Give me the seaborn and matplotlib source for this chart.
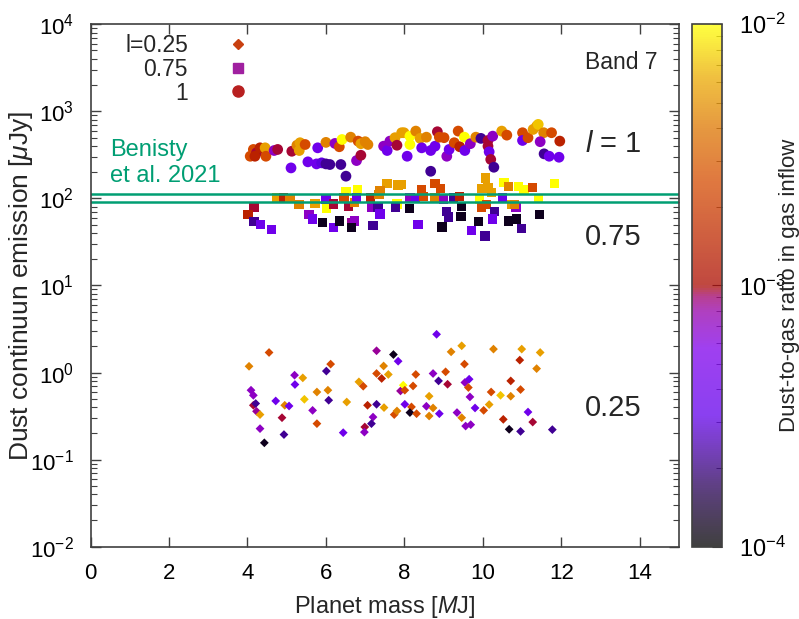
import matplotlib
matplotlib.use('Agg')
import matplotlib.pyplot as plt
import matplotlib.ticker as mticker
import seaborn as sns
from matplotlib.colors import LinearSegmentedColormap, LogNorm
from matplotlib.cm import ScalarMappable
from matplotlib.lines import Line2D

# l = 1 (circles)
mass_l1 = [4.07, 4.15, 4.23, 4.32, 4.45, 4.47, 4.19, 4.68, 4.77, 5.13, 5.26, 5.34, 5.32, 5.47, 5.11,
           5.54, 5.79, 6.00, 5.76, 5.89, 6.00, 6.10, 6.23, 6.34, 6.41, 6.38, 6.51, 6.63, 6.82, 6.89,
           7.00, 7.07, 6.78, 6.89, 7.47, 7.56, 7.63, 7.76, 7.81, 7.93, 7.99, 8.14, 8.14, 8.29, 8.40,
           8.56, 8.07, 8.44, 8.67, 8.78, 8.84, 8.89, 9.01, 9.08, 9.14, 9.27, 9.37, 9.41, 9.53, 9.54,
           9.68, 8.67, 9.82, 9.95, 10.13, 10.25, 10.13, 10.16, 10.20, 10.28, 10.48, 10.61, 11.01, 11.01,
           11.15, 11.28, 11.37, 11.41, 11.55, 11.46, 11.56, 11.69, 11.94, 11.96, 11.75]
flux_l1 = [305, 365, 334, 381, 381, 305, 305, 355, 365, 348, 408, 436, 355, 416, 224,
           263, 381, 440, 249, 256, 249, 245, 428, 392, 475, 245, 180, 505, 455, 425,
           448, 416, 272, 313, 398, 355, 455, 498, 408, 568, 568, 519, 416, 593, 489,
           505, 305, 381, 355, 398, 583, 505, 498, 305, 365, 436, 593, 392, 505, 355,
           425, 205, 505, 489, 463, 519, 398, 343, 280, 228, 593, 533, 568, 463,
           498, 620, 676, 708, 568, 448, 325, 305, 297, 455, 568]
dtg_l1 = [2.5e-3, 2.5e-3, 9.5e-4, 1.4e-3, 5.7e-3, 2.5e-3, 1.4e-3, 7e-4, 9.5e-4, 9.5e-4, 4.4e-3, 5.7e-3, 5.7e-3, 2.5e-3, 4e-4,
          4e-4, 4e-4, 4.4e-3, 4e-4, 3e-4, 2.2e-4, 2.2e-4, 7e-4, 2.5e-3, 1e-2, 2.2e-4, 2.2e-4, 4.4e-3, 2.5e-3, 5.7e-3,
          4.4e-3, 4.4e-3, 7e-4, 9.5e-4, 7e-4, 4e-4, 7e-4, 5.7e-3, 9.5e-4, 5.7e-3, 5.7e-3, 1e-2, 1e-2, 4.4e-3, 5.7e-3,
          4.4e-3, 4e-4, 4e-4, 4e-4, 4e-4, 9.5e-4, 2.5e-3, 2.5e-3, 7e-4, 4e-4, 2.5e-3, 2.5e-3, 1.4e-3, 1e-2, 4e-4,
          7e-4, 2.2e-4, 4.4e-3, 2.2e-4, 9.5e-4, 7e-4, 9.5e-4, 4e-4, 9.5e-4, 2.2e-4, 5.7e-3, 2.5e-3, 2.5e-3, 4e-4,
          2.5e-3, 5.7e-3, 5.7e-3, 7.2e-3, 4.4e-3, 7e-4, 2.2e-4, 4e-4, 4e-4, 1.4e-3, 2.5e-3]

# l = 0.75 (squares)
mass_l075 = [4.75, 4.91, 5.08, 4.17, 4.01, 4.17, 4.34, 4.61, 5.31, 5.72, 5.57, 5.65, 6.00, 6.01, 6.19,
             5.92, 6.19, 6.34, 6.51, 6.81, 6.46, 6.57, 6.72, 6.78, 6.66, 6.72, 6.66, 7.14, 7.35, 7.16,
             7.33, 7.38, 7.20, 7.56, 7.84, 7.81, 7.78, 7.38, 7.93, 8.14, 8.13, 8.29, 8.44, 8.48, 8.35,
             8.78, 8.92, 8.78, 8.99, 9.08, 9.12, 8.96, 9.25, 9.41, 9.46, 9.44, 9.71, 9.88, 9.91, 9.97,
             10.07, 10.13, 10.22, 9.97, 10.09, 10.29, 10.25, 10.05, 10.50, 10.54, 10.65, 10.65, 10.86, 10.99,
             10.73, 10.84, 10.90, 11.05, 10.81, 11.27, 11.41, 11.44, 11.83]
flux_l075 = [101, 101, 99, 79, 65, 54, 50, 44, 85, 87, 65, 58, 97, 76, 86,
             53, 46, 55, 120, 126, 101, 81, 89, 103, 52, 55, 46, 101, 110, 78,
             80, 66, 49, 147, 142, 86, 79, 123, 144, 101, 76, 99, 126, 106, 50,
             147, 130, 101, 97, 71, 61, 47, 101, 106, 81, 62, 43, 54, 97, 130,
             172, 132, 116, 79, 85, 71, 58, 37, 101, 151, 138, 55, 58, 45,
             85, 79, 138, 126, 85, 134, 99, 65, 147]
dtg_l075 = [5.7e-3, 1.4e-3, 4.4e-3, 9.5e-4, 1.4e-3, 2.2e-4, 4e-4, 4e-4, 4.4e-3, 5.7e-3, 7e-4, 4e-4, 4e-4, 1e-2, 9.5e-4,
            1.2e-4, 4e-4, 1.2e-4, 1e-2, 1e-2, 2.5e-3, 9.5e-4, 4.4e-3, 4e-4, 8.3e-4, 7e-4, 1.2e-4, 1.4e-3, 4.4e-3, 7e-4,
            2.2e-4, 4e-4, 2.2e-4, 5.7e-3, 5.7e-3, 1e-2, 2.2e-4, 4.4e-3, 5.7e-3, 7e-4, 1.2e-4, 4e-4, 2.5e-3, 2.5e-3, 4e-4,
            2.5e-3, 2.5e-3, 4.4e-3, 7e-4, 2.2e-4, 2.2e-4, 1.2e-4, 2.2e-4, 1.4e-3, 1.2e-4, 1.2e-4, 4e-4, 1.2e-4, 1e-2, 5.7e-3,
            5.7e-3, 5.7e-3, 5.7e-3, 2.5e-3, 2.5e-3, 2.2e-4, 4e-4, 2.2e-4, 4e-4, 1e-2, 4.4e-3, 1.2e-4, 1.2e-4, 2.2e-4,
            5.7e-3, 7e-4, 1e-2, 1e-2, 4.4e-3, 2.5e-3, 1e-2, 1.2e-4, 1e-2]

# l = 0.25 (diamonds)
mass_l025 = [4.55, 4.04, 4.09, 4.15, 4.15, 4.21, 4.23, 4.32, 4.32, 4.43, 4.72, 4.88, 4.93, 4.95, 5.06,
             5.20, 5.21, 5.41, 5.45, 5.66, 5.77, 5.77, 6.01, 6.12, 6.05, 6.07, 6.44, 6.53, 6.84, 6.95,
             7.06, 7.29, 7.72, 7.84, 7.47, 7.29, 7.42, 7.59, 7.29, 7.48, 7.20, 7.16, 6.99, 6.98, 7.74,
             7.81, 7.90, 7.97, 8.01, 8.82, 9.19, 9.46, 9.53, 9.05, 8.73, 8.87, 9.10, 8.29, 8.22, 8.01,
             8.63, 8.18, 8.14, 8.31, 8.56, 8.73, 8.63, 8.89, 9.54, 9.65, 9.63, 9.67, 9.80, 9.34, 9.46,
             9.56, 9.69, 10.16, 10.02, 10.21, 10.27, 10.45, 10.71, 10.71, 10.52, 10.67, 10.96, 10.96, 10.94,
             10.99, 11.37, 11.46, 11.15, 11.27, 11.77]
flux_l025 = [1.70, 1.18, 0.627, 0.548, 0.421, 0.441, 0.359, 0.329, 0.227, 0.156, 0.472, 0.303, 0.194, 0.421, 0.413,
             0.933, 0.729, 0.869, 0.493, 0.368, 0.598, 0.259, 1.04, 1.25, 0.627, 0.481, 0.204, 0.459, 0.782, 0.697,
             0.421, 1.78, 1.61, 1.35, 1.19, 0.975, 0.855, 0.951, 0.432, 0.396, 0.308, 0.259, 0.237, 0.207, 0.329,
             0.362, 0.615, 0.716, 0.432, 2.75, 1.73, 2.03, 1.25, 1.02, 0.975, 0.802, 0.734, 0.951, 0.702, 0.627,
             0.535, 0.403, 0.347, 0.337, 0.410, 0.392, 0.317, 0.337, 0.769, 0.839, 0.673, 0.525, 0.392, 0.347, 0.303,
             0.243, 0.252, 0.429, 0.368, 0.598, 1.86, 0.548, 0.535, 0.802, 0.290, 0.223, 0.211, 0.638, 1.39,
             1.86, 1.11, 1.70, 0.352, 0.270, 0.221]
dtg_l025 = [2.5e-3, 4.4e-3, 7e-4, 7e-4, 9.5e-4, 2.2e-4, 8.3e-4, 5.7e-3, 7e-4, 1.2e-4, 4e-4, 9.5e-4, 2.2e-4, 4.4e-3, 4e-4,
            7e-4, 4e-4, 5.7e-3, 7.2e-3, 7e-4, 4.4e-3, 2.5e-3, 2.2e-4, 2.5e-3, 4.4e-3, 2.2e-4, 4e-4, 5.7e-3, 5.7e-3, 2.5e-3,
            1.4e-3, 8.3e-4, 1.2e-4, 4e-4, 4.4e-3, 2.5e-3, 1.4e-3, 5.7e-3, 2.2e-4, 5.7e-3, 7e-4, 2.2e-4, 9.5e-4, 7e-4, 2.5e-3,
            4.4e-3, 8.3e-4, 1e-2, 4e-4, 4e-4, 4.4e-3, 5.7e-3, 2.5e-3, 2.5e-3, 7e-4, 2.2e-4, 9.5e-4, 2.5e-3, 2.5e-3, 2.5e-3,
            5.7e-3, 2.5e-3, 1.2e-4, 2.5e-3, 7e-4, 4.4e-3, 4.4e-3, 4e-4, 7e-4, 4e-4, 2.5e-3, 7e-4, 4e-4, 7e-4, 4.4e-3,
            7e-4, 7e-4, 5.7e-3, 2.5e-3, 2.5e-3, 4.4e-3, 7.2e-3, 4.4e-3, 1.4e-3, 1.4e-3, 1.2e-4, 2.2e-4, 2.5e-3, 1.4e-3,
            5.7e-3, 4.4e-3, 5.7e-3, 4e-4, 9.5e-4, 2.2e-4]

benisty_flux = [111, 92]
legend_labels = ['l=0.25', '0.75', '1']

# Helvetica-like look
sns.set_style('ticks')
plt.rcParams['font.family'] = ['Liberation Sans', 'DejaVu Sans']
plt.rcParams['mathtext.fontset'] = 'custom'
plt.rcParams['mathtext.rm'] = 'Liberation Sans'
plt.rcParams['mathtext.it'] = 'Liberation Sans:italic'
plt.rcParams['axes.unicode_minus'] = False
plt.rcParams['axes.edgecolor'] = '#404040'
plt.rcParams['axes.linewidth'] = 1.2

# palette like the gnuplot one
cmap = LinearSegmentedColormap.from_list('dtg', [
    (0.0, '#000000'), (0.1, '#23004b'), (0.25, '#6300eb'), (0.38, '#8000eb'),
    (0.45, '#9500ab'), (0.48, '#a0006b'), (0.5, '#ab0b00'), (0.6, '#c02b00'),
    (0.7, '#d54b00'), (0.8, '#dd7500'), (0.9, '#ebab00'), (1.0, '#ffff00')])
norm = LogNorm(1e-4, 1e-2)
green = '#009e73'

fig = plt.figure(figsize=(7.99, 6.19), dpi=100)
ax = fig.add_axes([0.1133, 0.1168, 0.7366, 0.8440])
cax = fig.add_axes([0.8661, 0.1168, 0.0375, 0.8440])

sns.scatterplot(x=mass_l025, y=flux_l025, hue=dtg_l025, palette=cmap, hue_norm=norm,
                marker='D', s=20, linewidth=0, legend=False, ax=ax)
sns.scatterplot(x=mass_l075, y=flux_l075, hue=dtg_l075, palette=cmap, hue_norm=norm,
                marker='s', s=45, linewidth=0, legend=False, ax=ax)
sns.scatterplot(x=mass_l1, y=flux_l1, hue=dtg_l1, palette=cmap, hue_norm=norm,
                marker='o', s=60, linewidth=0, legend=False, ax=ax)

for f in benisty_flux:
    ax.axhline(f, color=green, lw=1.8)

ax.set_yscale('log')
ax.set_xlim(0, 15)
ax.set_ylim(1e-2, 1e4)
ax.xaxis.set_major_locator(mticker.MultipleLocator(2))
ax.yaxis.set_major_locator(mticker.LogLocator(base=10, numticks=10))
ax.yaxis.set_minor_locator(mticker.LogLocator(base=10, subs=range(2, 10), numticks=20))
ax.yaxis.set_minor_formatter(mticker.NullFormatter())
ax.tick_params(which='both', direction='in', top=True, right=True, colors='#404040',
               labelcolor='black', labelsize=16, pad=12)
ax.tick_params(which='major', length=7, width=1)
ax.tick_params(which='minor', length=4, width=0.8)

ax.set_xlabel('Planet mass [$\\it{M}$J]', fontsize=17, labelpad=7)
ax.set_ylabel('Dust continuun emission [$\\mu$Jy]', fontsize=19)
ax.yaxis.set_label_coords(-0.094, 0.5)

handles = [Line2D([], [], marker='D', color='#c84010', ls='none', markersize=5),
           Line2D([], [], marker='s', color='#a020a0', ls='none', markersize=7),
           Line2D([], [], marker='o', color='#b82020', ls='none', markersize=8)]
ax.legend(handles, legend_labels, loc='upper left', bbox_to_anchor=(0.0586, 0.982),
          frameon=False, markerfirst=False, borderpad=0, borderaxespad=0,
          handlelength=1.4, handletextpad=1.5, labelspacing=0.04, fontsize=16.5)

ax.text(0.033, 0.7345, 'Benisty\net al. 2021', transform=ax.transAxes, color=green,
        ha='left', va='center', fontsize=17, linespacing=1.2)
ax.text(0.9626, 0.926, 'Band 7', transform=ax.transAxes, ha='right', va='center', fontsize=16.5)
ax.text(0.84, 0.771, '$l$ = 1', transform=ax.transAxes, ha='left', va='center', fontsize=21)
ax.text(0.84, 0.593, '0.75', transform=ax.transAxes, ha='left', va='center', fontsize=21)
ax.text(0.84, 0.2655, '0.25', transform=ax.transAxes, ha='left', va='center', fontsize=21)

sm = ScalarMappable(norm=norm, cmap=cmap)
cb = fig.colorbar(sm, cax=cax, alpha=0.75)
cb.outline.set_edgecolor('#404040')
cax.tick_params(which='both', direction='in', colors='#404040', labelcolor='black',
                labelsize=17, pad=12)
cax.tick_params(which='major', length=7)
cax.tick_params(which='minor', length=4)
cb.set_label('Dust-to-gas ratio in gas inflow', fontsize=16)
cax.yaxis.set_label_coords(2.9, 0.5)

plt.savefig('out.png', dpi=100)
